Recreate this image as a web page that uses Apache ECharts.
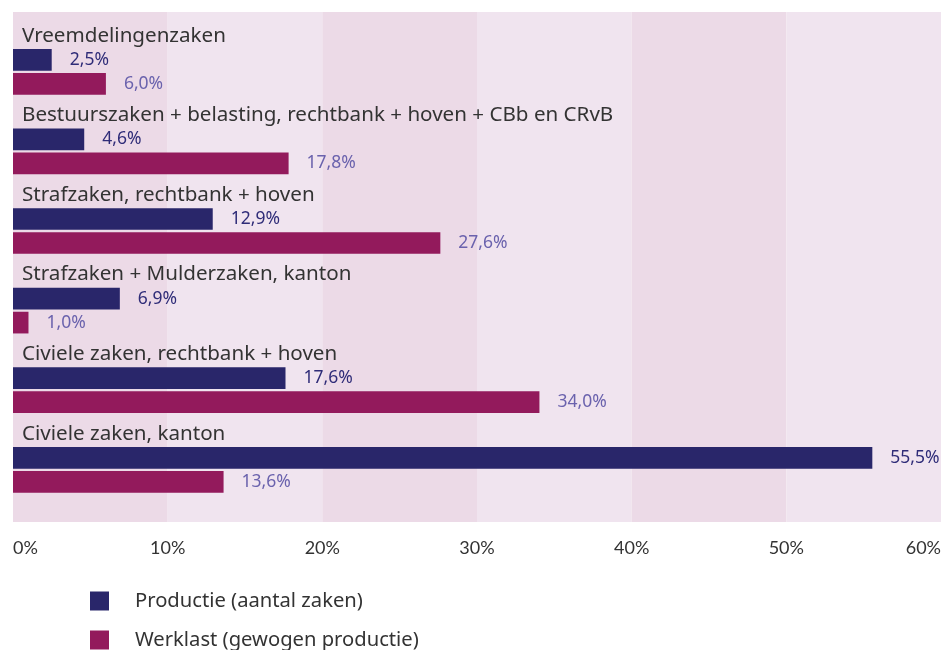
<!DOCTYPE html>
<html><head><meta charset="utf-8">
<script src="https://cdn.jsdelivr.net/npm/echarts@6/dist/echarts.min.js"></script>
<style>html,body{margin:0;padding:0;background:#fff}#c{width:944px;height:650px}</style>
</head><body><div id="c"></div>
<script>
const categories = [
  'Vreemdelingenzaken',
  'Bestuurszaken + belasting, rechtbank + hoven + CBb en CRvB',
  'Strafzaken, rechtbank + hoven',
  'Strafzaken + Mulderzaken, kanton',
  'Civiele zaken, rechtbank + hoven',
  'Civiele zaken, kanton'
];
const productie = [2.5, 4.6, 12.9, 6.9, 17.6, 55.5];
const werklast = [6.0, 17.8, 27.6, 1.0, 34.0, 13.6];
const seriesNames = ['Productie (aantal zaken)', 'Werklast (gewogen productie)'];
const tickValues = [0, 10, 20, 30, 40, 50, 60];

const FONT = 'Noto Sans';
const fmt = v => v.toFixed(1).replace('.', ',') + '%';
const chart = echarts.init(document.getElementById('c'));
chart.setOption({
  animation: false,
  textStyle: { fontFamily: FONT },
  grid: [
    { left: 13, right: 2, top: 12, height: 510 },
    { left: 13, right: 2, top: 20, height: 477.6 }
  ],
  xAxis: [
    { gridIndex: 0, type: 'value', min: 0, max: 60, interval: 10,
      axisLine: { show: false }, axisTick: { show: false }, splitLine: { show: false },
      splitArea: { show: true, areaStyle: { color: ['#ecdae7', '#f0e4ef'] } },
      axisLabel: { margin: 17, fontSize: 18, color: '#333', fontFamily: 'Lato',
        alignMinLabel: 'left', alignMaxLabel: 'right',
        formatter: v => tickValues.includes(v) ? v + '%' : '' } },
    { gridIndex: 1, type: 'value', min: 0, max: 60, show: false }
  ],
  yAxis: [
    { gridIndex: 0, type: 'category', data: [''], show: false },
    { gridIndex: 1, type: 'category', data: categories, inverse: true, show: false }
  ],
  legend: {
    orient: 'vertical', left: 90, top: 591, padding: 0, itemWidth: 19, itemHeight: 19, itemGap: 19,
    data: seriesNames, icon: 'rect',
    textStyle: { fontSize: 20.2, color: '#333', fontFamily: FONT, padding: [0, 0, 0, 21] }
  },
  series: [
    { type: 'bar', xAxisIndex: 1, yAxisIndex: 1, barWidth: 21.7, barGap: '10.6%', barCategoryGap: 9.9,
      data: categories.map(() => 60), silent: true,
      itemStyle: { color: 'rgba(0,0,0,0)' },
      label: { show: true, position: 'insideLeft', distance: 9, fontSize: 20.6, color: '#333', fontFamily: FONT,
        formatter: p => categories[p.dataIndex] } },
    { name: seriesNames[0], type: 'bar', xAxisIndex: 1, yAxisIndex: 1, barWidth: 21.7, barGap: '10.6%',
      data: productie, itemStyle: { color: '#29266a' },
      label: { show: true, position: 'right', distance: 18, fontSize: 17.5, color: '#2f2c78', fontFamily: FONT,
        formatter: p => fmt(p.value) } },
    { name: seriesNames[1], type: 'bar', xAxisIndex: 1, yAxisIndex: 1, barWidth: 21.7, barGap: '10.6%',
      data: werklast, itemStyle: { color: '#931a5c' },
      label: { show: true, position: 'right', distance: 18, fontSize: 17.5, color: '#6a62ad', fontFamily: FONT,
        formatter: p => fmt(p.value) } }
  ]
});
</script></body></html>
